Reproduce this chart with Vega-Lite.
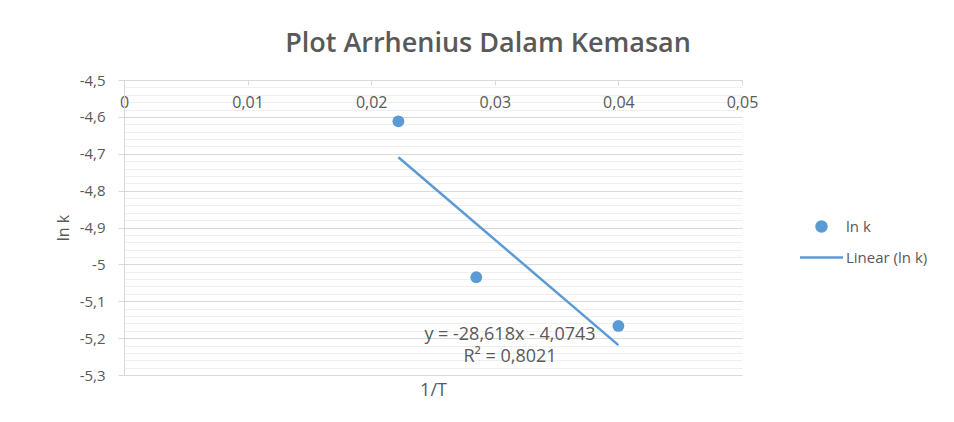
{
  "$schema": "https://vega.github.io/schema/vega-lite/v6.json",
  "width": 618,
  "height": 295,
  "autosize": {"type": "none"},
  "padding": {"left": 124, "top": 80, "right": 212, "bottom": 47},
  "background": "white",
  "config": {
    "locale": {"number": {"decimal": ",", "thousands": ".", "grouping": [3], "currency": ["", ""], "minus": "-"}},
    "font": "Open Sans",
    "view": {"stroke": null},
    "axis": {"labelFont": "Open Sans", "titleFont": "Open Sans", "labelColor": "#595959", "titleColor": "#595959", "labelFontSize": 15, "titleFontSize": 16, "titleFontWeight": "normal"}
  },
  "title": {
    "text": "Plot Arrhenius Dalam Kemasan",
    "fontSize": 27,
    "fontWeight": 600,
    "color": "#595959",
    "font": "Open Sans",
    "anchor": "middle",
    "dx": 55,
    "offset": -6,
    "baseline": "alphabetic"
  },
  "resolve": {"axis": {"y": "independent"}},
  "layer": [
    {
      "data": {"values": [
        {"invT": 0.0222, "lnk": -4.612, "series": "ln k"},
        {"invT": 0.0285, "lnk": -5.035, "series": "ln k"},
        {"invT": 0.0400, "lnk": -5.167, "series": "ln k"}
      ]},
      "mark": {"type": "point", "filled": true, "opacity": 1, "size": 140},
      "encoding": {
        "x": {"field": "invT", "type": "quantitative",
          "scale": {"domain": [0, 0.05], "nice": false, "zero": false},
          "axis": {"orient": "bottom", "offset": -295, "title": "1/T", "titleY": 310, "titleBaseline": "middle", "titleFontSize": 18,
            "values": [0, 0.01, 0.02, 0.03, 0.04, 0.05], "format": ".2~f",
            "grid": false, "domainColor": "#d9d9d9", "tickColor": "#d9d9d9", "tickSize": 5,
            "labelPadding": 9, "labelFontSize": 16, "labelBaseline": "top", "labelFlush": false, "labelOverlap": false}},
        "y": {"field": "lnk", "type": "quantitative",
          "scale": {"domain": [-5.3, -4.5], "nice": false, "zero": false},
          "axis": {"orient": "left", "title": "ln k", "titlePadding": 8,
            "values": [-5.3, -5.2, -5.1, -5, -4.9, -4.8, -4.7, -4.6, -4.5], "format": ".1~f",
            "grid": true, "gridColor": "#d9d9d9", "domainColor": "#d9d9d9", "tickColor": "#d9d9d9", "tickSize": 6,
            "labelPadding": 13}},
        "color": {"field": "series", "type": "nominal",
          "scale": {"domain": ["ln k", "Linear (ln k)"], "range": ["#5B9BD5", "#5B9BD5"]},
          "legend": {"orient": "none", "legendX": 690, "legendY": 139, "title": null,
            "labelFont": "Open Sans", "labelFontSize": 15, "labelColor": "#595959",
            "symbolSize": 100, "labelOffset": 17, "rowPadding": 13,
            "symbolStrokeColor": "#5B9BD5", "symbolStrokeWidth": 2.5}},
        "shape": {"field": "series", "type": "nominal",
          "scale": {"domain": ["ln k", "Linear (ln k)"], "range": ["circle", "M-4.3,0H4.3"]}}
      }
    },
    {
      "data": {"values": [
        {"invT": 0.0222, "lnk": -4.7096, "series": "Linear (ln k)"},
        {"invT": 0.0400, "lnk": -5.2190, "series": "Linear (ln k)"}
      ]},
      "mark": {"type": "line", "strokeWidth": 2.5},
      "encoding": {
        "x": {"field": "invT", "type": "quantitative"},
        "y": {"field": "lnk", "type": "quantitative",
          "axis": {"orient": "left", "title": null, "labels": false, "ticks": false, "domain": false,
            "grid": true, "gridColor": "#efefef",
            "values": [-5.28, -5.26, -5.24, -5.22, -5.18, -5.16, -5.14, -5.12, -5.08, -5.06, -5.04, -5.02, -4.98, -4.96, -4.94, -4.92, -4.88, -4.86, -4.84, -4.82, -4.78, -4.76, -4.74, -4.72, -4.68, -4.66, -4.64, -4.62, -4.58, -4.56, -4.54, -4.52]}},
        "color": {"field": "series", "type": "nominal"}
      }
    },
    {
      "data": {"values": [
        {"invT": 0.03123, "lnk": -5.191, "label": "y = -28,618x - 4,0743\nR² = 0,8021"}
      ]},
      "mark": {"type": "text", "lineBreak": "\n", "align": "center", "baseline": "middle", "fontSize": 18, "color": "#595959", "font": "Open Sans", "lineHeight": 22},
      "encoding": {
        "x": {"field": "invT", "type": "quantitative"},
        "y": {"field": "lnk", "type": "quantitative", "axis": null},
        "text": {"field": "label"}
      }
    }
  ]
}
